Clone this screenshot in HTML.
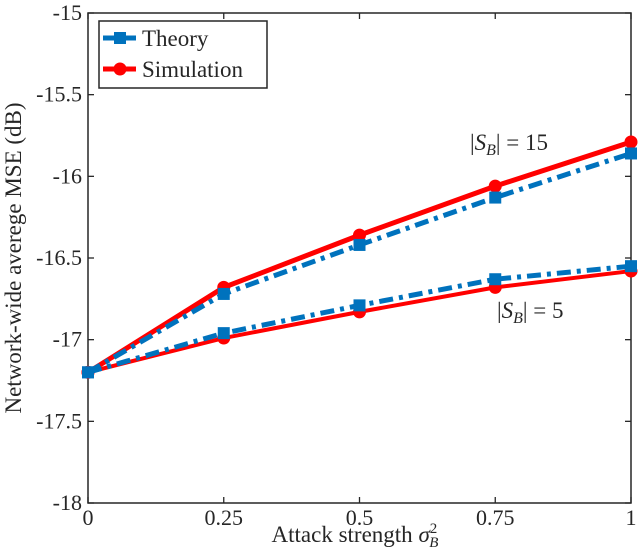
<!DOCTYPE html>
<html><head><meta charset="utf-8"><style>
body{margin:0;background:#fff}
svg text{font-family:"Liberation Serif","DejaVu Serif",serif;fill:#262626}
</style></head><body>
<svg id="chart" width="640" height="548" xmlns="http://www.w3.org/2000/svg">
<g id="g"></g>
</svg>
<script>
const xVals=[0,0.25,0.5,0.75,1];
const xTicks=["0","0.25","0.5","0.75","1"];
const yTicks=[-15,-15.5,-16,-16.5,-17,-17.5,-18];
const yTickLabels=["-15","-15.5","-16","-16.5","-17","-17.5","-18"];
const theory15=[-17.2,-16.72,-16.42,-16.13,-15.86];
const sim15=[-17.2,-16.68,-16.36,-16.06,-15.79];
const theory5=[-17.2,-16.96,-16.79,-16.63,-16.55];
const sim5=[-17.2,-16.99,-16.83,-16.68,-16.58];

const L=88,R=631,T=13,B=503;
const xs=v=>L+(v-0)*(R-L);
const ys=v=>T+(-15-v)/3*(B-T);
const g=document.getElementById('g');
const NS='http://www.w3.org/2000/svg';
function mk(tag,attrs,parent){const e=document.createElementNS(NS,tag);for(const k in attrs)e.setAttribute(k,attrs[k]);(parent||g).appendChild(e);return e;}

const box=mk('rect',{x:L,y:T,width:R-L,height:B-T,fill:'none',stroke:'#262626','stroke-width':1.5});



xVals.forEach((v,i)=>{
  const x=xs(v);
  mk('line',{x1:x,y1:B,x2:x,y2:B-6,stroke:'#262626','stroke-width':1.3});
  mk('line',{x1:x,y1:T,x2:x,y2:T+6,stroke:'#262626','stroke-width':1.3});
  const t=mk('text',{x:x,y:B+22,'text-anchor':'middle','font-size':22});
  t.textContent=xTicks[i];
  
  
});
yTicks.forEach((v,i)=>{
  const y=ys(v);
  mk('line',{x1:L,y1:y,x2:L+6,y2:y,stroke:'#262626','stroke-width':1.3});
  mk('line',{x1:R,y1:y,x2:R-6,y2:y,stroke:'#262626','stroke-width':1.3});
  const t=mk('text',{x:L-6,y:y+7,'text-anchor':'end','font-size':22});
  t.textContent=yTickLabels[i];
  
  
});

function series(vals,color,dash,marker,w,name){
  const pts=vals.map((v,i)=>xs(xVals[i])+','+ys(v)).join(' ');
  const pl=mk('polyline',{points:pts,fill:'none',stroke:color,'stroke-width':w,'stroke-dasharray':dash||'none'});
  
  
  vals.forEach((v,i)=>{
    const x=xs(xVals[i]),y=ys(v);
    let m;
    if(marker==='sq') m=mk('rect',{x:x-6,y:y-6,width:12,height:12,fill:color});
    else m=mk('circle',{cx:x,cy:y,r:6.5,fill:color});
    
    
  });
}
series(sim5,'#ff0000','', 'c',4,'simulation-sb5');
series(sim15,'#ff0000','', 'c',5,'simulation-sb15');
series(theory5,'#0072bd','14,6,4,6','sq',5,'theory-sb5');
series(theory15,'#0072bd','14,6,4,6','sq',5,'theory-sb15');

const a1=mk('text',{x:470,y:150,'font-size':23});
a1.innerHTML='|<tspan font-style="italic">S</tspan><tspan font-style="italic" font-size="16" dy="5">B</tspan><tspan dy="-5">| = 15</tspan>';


const a2=mk('text',{x:497,y:318,'font-size':23});
a2.innerHTML='|<tspan font-style="italic">S</tspan><tspan font-style="italic" font-size="16" dy="5">B</tspan><tspan dy="-5">| = 5</tspan>';



const lg=mk('g',{});


mk('rect',{x:99,y:21,width:168,height:67,fill:'#fff',stroke:'#262626','stroke-width':1.5},lg);
mk('line',{x1:103,y1:38,x2:136,y2:38,stroke:'#0072bd','stroke-width':5},lg);
mk('rect',{x:114,y:32,width:12,height:12,fill:'#0072bd'},lg);
const t1=mk('text',{x:142,y:46,'font-size':23},lg);t1.textContent='Theory';


mk('line',{x1:103,y1:69,x2:136,y2:69,stroke:'#ff0000','stroke-width':5},lg);
mk('circle',{cx:120,cy:69,r:6.5,fill:'#ff0000'},lg);
const t2=mk('text',{x:142,y:77,'font-size':23},lg);t2.textContent='Simulation';



const xt=mk('text',{x:355,y:542,'text-anchor':'middle','font-size':23});
xt.innerHTML='Attack strength <tspan font-style="italic">σ</tspan><tspan font-size="15" dy="-9">2</tspan><tspan font-size="15" font-style="italic" dx="-8" dy="14">B</tspan>';


const yt=mk('text',{x:0,y:0,'text-anchor':'middle','font-size':23,transform:'translate(21,258) rotate(-90)'});
yt.textContent='Network-wide averege MSE (dB)';


</script>
</body></html>
